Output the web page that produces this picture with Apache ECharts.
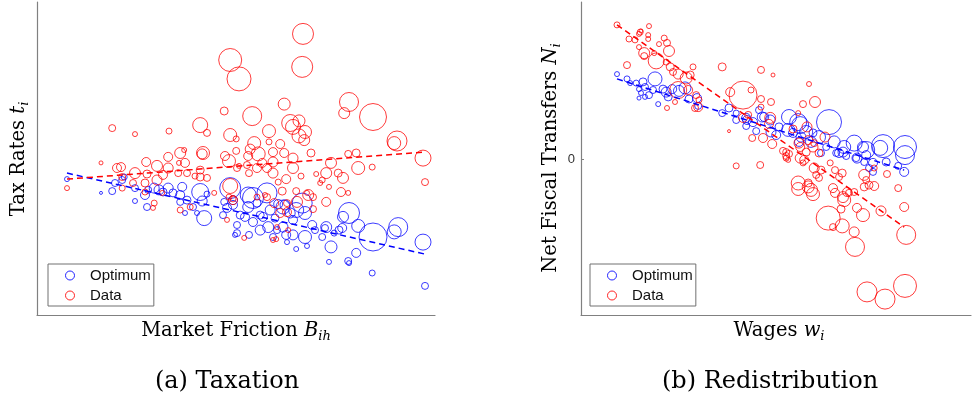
<!DOCTYPE html>
<html>
<head>
<meta charset="utf-8">
<script src="https://cdn.jsdelivr.net/npm/echarts@6/dist/echarts.min.js"></script>
<style>
  html, body { margin: 0; padding: 0; background: #ffffff; }
  #chart { width: 972px; height: 406px; }
</style>
</head>
<body>
<div id="chart"></div>
<script>
// Panel (a): market friction B (index) vs tax rate t (%), bubble weight = population
const taxData = [
  [66.5,93.7,21],[48.3,85.0,23],[50.5,78.7,24],[66.3,82.7,21],[78.0,71.0,19],[76.8,67.3,11],[84.0,66.0,27],[61.8,70.3,12],[46.8,68.0,8],[53.8,66.3,19],
  [40.8,63.3,15],[42.5,60.7,7],[18.8,62.3,7],[24.5,60.3,5],[33.0,61.3,6],[48.3,60.0,13],[49.8,58.7,6],[58.0,61.3,13],[63.3,64.0,17],[65.5,64.7,12],
  [64.0,62.7,15],[67.0,61.0,13],[65.5,59.7,14],[66.8,58.3,11],[60.8,57.0,9],[58.0,57.7,6],[54.3,57.3,13],[53.3,55.3,10],[49.8,54.7,7],[59.0,54.3,9],
  [61.8,54.0,9],[55.3,53.7,14],[52.8,53.0,9],[47.0,53.0,9],[48.0,51.3,13],[68.5,54.0,8],[64.0,52.3,10],[89.3,57.3,13],[90.0,58.0,20],[77.8,53.7,7],
  [79.8,54.0,8],[96.5,52.3,16],[97.0,44.3,7],[83.8,49.3,6],[80.3,49.0,13],[73.5,50.7,11],[72.3,47.3,11],[76.5,45.7,11],[75.3,47.3,8],[69.8,47.0,5],
  [71.3,45.0,6],[70.8,44.0,5],[73.0,42.7,5],[66.0,46.3,6],[62.3,45.3,9],[60.3,44.3,6],[64.0,49.0,11],[59.0,47.3,10],[57.5,49.0,9],[55.0,49.0,9],
  [53.0,47.3,7],[56.3,50.7,9],[59.0,51.0,10],[50.0,49.0,7],[50.5,49.7,5],[52.5,50.0,7],[41.3,53.7,10],[41.5,54.0,13],[36.8,55.0,5],[35.8,54.0,11],
  [32.8,52.7,9],[37.0,50.7,9],[35.5,50.7,5],[32.8,49.0,10],[30.0,49.7,11],[27.3,51.0,9],[16.0,50.7,4],[20.0,49.0,9],[21.0,49.3,9],[24.5,47.3,11],
  [30.0,45.0,10],[27.5,47.0,8],[31.5,46.7,9],[35.3,47.3,7],[37.5,47.3,7],[40.8,48.3,8],[40.8,46.0,8],[42.5,45.7,7],[39.5,46.3,6],[27.0,44.0,8],
  [24.0,44.0,7],[21.3,46.0,7],[7.5,42.3,5],[29.3,37.3,6],[29.0,35.7,5],[35.8,35.0,6],[38.3,36.0,6],[31.3,40.7,5],[27.0,41.0,6],[44.3,40.7,5],
  [48.3,43.0,15],[49.0,38.3,9],[48.0,39.3,6],[49.0,38.7,6],[47.5,31.7,5],[51.8,25.7,5],[59.0,25.0,5],[59.8,25.3,5],[55.0,39.3,6],[57.5,39.3,7],
  [61.3,41.3,8],[60.8,34.0,9],[62.5,34.3,9],[62.5,37.3,7],[67.5,40.7,5],[69.0,39.3,7],[69.0,35.3,7],[72.3,37.7,9],[77.8,40.7,5],[60.0,29.3,5],
  [64.8,41.3,7],[67.8,40.0,11],[65.0,37.7,11],[59.3,37.3,9],[57.0,40.0,5],[76.0,41.0,9],[62.8,28.3,5],[21.3,42.3,6]
];
const taxOptimum = [
  [7.5,45.3,5],[16.0,40.7,3],[18.8,41.3,7],[19.5,44.0,7],[21.3,45.0,7],[21.8,46.0,6],[24.5,38.0,5],[24.5,42.3,7],[27.5,36.0,7],[27.0,40.0,9],
  [29.3,42.3,10],[27.8,41.7,7],[30.5,41.7,10],[32.8,42.3,10],[31.5,41.0,8],[34.0,40.7,8],[35.8,40.0,9],[36.3,42.7,9],[37.0,34.0,5],[35.8,37.7,7],
  [37.5,38.3,8],[39.0,36.0,7],[40.8,41.0,17],[41.8,32.3,15],[41.3,38.0,10],[42.5,40.3,6],[40.0,34.0,5],[48.3,42.3,21],[49.0,38.3,9],[49.0,36.7,9],
  [47.5,35.7,9],[46.5,33.3,7],[46.8,37.7,7],[50.0,30.0,7],[50.0,27.3,7],[49.5,26.7,5],[53.0,26.7,7],[54.0,39.0,21],[52.8,36.0,11],[55.0,37.3,8],
  [52.0,32.7,9],[54.0,31.0,9],[55.8,28.3,10],[56.5,32.7,9],[57.8,29.3,11],[60.0,28.3,7],[58.3,35.0,10],[60.3,37.0,9],[61.5,36.0,14],[63.3,34.0,10],
  [64.8,35.0,15],[66.3,37.3,20],[67.0,34.0,13],[64.0,31.7,9],[61.5,29.3,10],[59.0,26.0,7],[62.3,26.7,9],[64.0,26.7,10],[62.5,24.3,5],[67.0,26.0,13],
  [64.8,22.0,5],[67.5,23.0,5],[68.8,30.0,9],[69.5,28.3,7],[71.3,26.0,7],[72.3,29.3,11],[74.3,27.3,6],[75.5,28.3,8],[73.5,22.7,12],[78.0,34.0,21],
  [76.5,32.7,11],[80.3,29.7,13],[79.8,20.7,9],[73.0,17.7,5],[77.8,18.0,7],[78.0,17.3,5],[84.0,26.0,28],[89.3,27.7,14],[90.3,29.3,19],[96.5,24.3,16],
  [83.8,14.0,6],[97.0,9.7,7],[57.5,40.7,20],[52.8,40.0,16],[62.0,36.7,10],[76.3,29.0,9],[72.0,29.0,7],[55.8,33.3,8],[59.5,32.3,8],[50.8,33.3,8]
];
// Fitted trends for panel (a): [B, t] at both ends
const taxDataFit = [[7.5,45.3],[97.0,54.3]];
const taxOptimumFit = [[7.5,47.3],[97.0,20.3]];

// Panel (b): wage w (index) vs net fiscal transfer N, bubble weight = population
const transferData = [
  [9.0,44.7,6],[17.0,44.3,5],[14.8,42.3,6],[14.5,41.7,5],[15.0,42.7,4],[12.0,40.0,6],[13.5,39.7,6],[16.8,40.0,5],[16.8,41.3,5],[20.8,40.3,6],
  [19.5,38.3,5],[21.5,38.7,7],[22.0,36.0,11],[18.3,35.3,5],[15.8,34.3,7],[15.8,35.3,11],[14.5,37.3,5],[18.8,32.7,16],[21.3,32.3,6],[22.3,30.7,8],
  [23.0,29.0,7],[24.3,28.3,10],[26.3,27.0,12],[27.3,28.0,8],[28.0,30.7,6],[11.5,31.3,7],[35.3,30.7,8],[45.0,29.7,7],[48.0,28.0,4],[57.0,25.0,5],
  [40.5,21.3,28],[37.3,22.3,9],[42.5,23.0,6],[45.0,20.0,7],[47.5,19.0,7],[45.0,17.3,6],[58.5,19.0,11],[55.5,18.3,7],[54.3,15.3,5],[28.8,21.3,7],
  [29.5,19.7,6],[29.3,17.3,9],[26.8,23.0,9],[24.3,23.0,17],[21.5,17.0,5],[23.5,19.0,5],[28.5,17.0,7],[37.0,9.3,3],[40.5,13.7,9],[41.8,14.7,7],
  [47.3,13.7,11],[47.0,11.7,9],[42.8,7.0,7],[45.5,7.0,9],[47.8,5.0,9],[38.8,-2.3,6],[44.8,-2.0,7],[50.5,2.7,7],[52.0,1.7,7],[51.3,0.3,6],
  [51.8,-0.3,5],[54.8,0.3,10],[56.3,2.3,8],[55.5,-1.3,6],[59.5,2.0,8],[56.8,6.3,9],[54.5,5.3,10],[58.3,5.3,7],[61.0,7.3,10],[60.0,-3.7,8],
  [58.3,-3.0,10],[58.8,-5.3,7],[54.3,-8.0,14],[54.3,-10.0,13],[56.8,-9.3,12],[57.5,-10.3,13],[58.0,-11.7,13],[56.8,-8.0,8],[59.5,-6.3,7],[62.3,-1.3,6],
  [63.5,-3.7,7],[64.5,-6.0,7],[65.3,-4.7,8],[63.0,-9.7,9],[63.5,-11.3,9],[65.5,-12.7,11],[66.5,-11.0,9],[67.0,-11.3,7],[68.3,-11.0,7],[65.0,-16.7,8],
  [65.8,-13.7,13],[61.8,-19.7,24],[63.0,-22.7,7],[65.3,-22.3,14],[69.0,-16.3,9],[70.5,-18.7,13],[68.3,-24.3,10],[68.5,-29.3,19],[70.8,-5.3,11],[71.3,-7.0,7],
  [70.8,-9.3,8],[72.0,-8.7,8],[73.3,-9.0,9],[75.0,-17.3,10],[79.3,-9.7,7],[76.5,-5.0,7],[73.3,-3.0,6],[80.8,-16.0,9],[81.3,-25.3,19],[71.5,-44.3,20],
  [76.0,-46.7,20],[81.0,-42.3,23],[51.3,2.3,7],[53.0,10.0,8],[56.5,10.7,10],[58.0,4.0,10],[54.8,4.0,9],[51.3,1.0,7],[55.8,-0.3,9]
];
const transferOptimum = [
  [9.0,28.3,5],[11.5,26.7,6],[12.3,25.3,5],[13.8,25.3,6],[15.5,25.7,8],[16.0,24.0,7],[18.5,26.7,14],[14.5,23.3,5],[15.0,22.0,5],[14.5,20.3,4],
  [16.0,20.7,5],[17.0,21.3,7],[18.0,23.0,7],[19.3,18.3,5],[20.5,23.3,8],[21.3,22.3,10],[21.8,20.7,8],[22.8,23.3,9],[24.5,22.7,11],[26.0,23.7,12],
  [27.0,20.0,8],[29.0,20.3,9],[29.3,17.7,7],[35.3,15.3,7],[37.0,17.0,8],[38.8,15.3,6],[38.8,13.0,7],[41.3,13.7,9],[41.3,11.0,7],[43.0,12.3,9],
  [43.8,9.3,7],[44.5,16.3,7],[45.8,14.0,9],[47.5,9.0,10],[48.8,8.0,9],[49.5,10.7,8],[52.0,14.0,15],[51.8,9.7,13],[54.3,12.3,17],[55.0,7.3,10],
  [56.3,9.0,13],[57.5,5.7,11],[58.0,8.7,8],[59.5,7.3,13],[62.0,12.3,25],[63.3,5.7,12],[65.8,4.0,13],[68.3,5.3,16],[70.5,4.0,11],[71.3,3.0,17],
  [64.5,2.0,9],[66.3,1.0,7],[68.8,0.3,7],[71.3,1.3,9],[70.8,-1.0,7],[73.0,-1.3,9],[75.5,4.3,23],[76.3,-1.0,8],[79.3,-2.3,7],[81.0,4.0,23],
  [81.0,1.3,19],[80.8,-4.3,9],[63.8,2.0,7],[61.3,4.0,7],[60.0,2.0,7],[54.5,5.7,9],[53.0,8.7,9],[72.0,-3.0,7],[73.0,-4.3,7],[45.3,14.0,10],
  [47.3,13.0,10],[54.8,11.3,17],[74.8,3.7,15],[69.0,0.3,10],[65.5,2.3,10],[41.5,13.0,9]
];
// Fitted trends for panel (b): [w, N] at both ends
const transferDataFit = [[9.0,44.7],[80.8,-22.7]];
const transferOptimumFit = [[9.0,26.7],[80.8,-3.7]];

const seriesNames = ['Optimum', 'Data'];
const yTicksB = [0];

const RED = '#ff0000';
const BLUE = '#0000ff';
const AXIS_GREY = '#808080';
const SERIF = '"DejaVu Serif", serif';

function bubbles(name, data, color, idx) {
  return {
    type: 'scatter', name, data, xAxisIndex: idx, yAxisIndex: idx,
    symbol: 'circle',
    symbolSize: d => d[2],
    itemStyle: { color: 'rgba(0,0,0,0)', borderColor: color, borderWidth: 0.9, opacity: 0.85 },
    emphasis: { disabled: true }, silent: true, z: 2
  };
}
function fitLine(name, data, color, idx) {
  return {
    type: 'line', name, data, xAxisIndex: idx, yAxisIndex: idx,
    symbol: 'none', silent: true, z: 3,
    lineStyle: { color, width: 1.5, type: [6, 4] }
  };
}
function hiddenAxis(extra) {
  return Object.assign({
    type: 'value',
    axisLine: { show: true, onZero: false, lineStyle: { color: AXIS_GREY, width: 1.2 } },
    axisTick: { show: false }, axisLabel: { show: false }, splitLine: { show: false }
  }, extra);
}
function legendBox(left) {
  return {
    left, top: 264, orient: 'vertical', selectedMode: false,
    data: [
      { name: seriesNames[0], icon: 'circle', itemStyle: { color: 'rgba(0,0,0,0)', borderColor: BLUE, borderWidth: 1 } },
      { name: seriesNames[1], icon: 'circle', itemStyle: { color: 'rgba(0,0,0,0)', borderColor: RED, borderWidth: 1 } }
    ],
    itemWidth: 30, itemHeight: 9, itemGap: 5,
    padding: [4, 3, 3, 17],
    borderColor: '#707070', borderWidth: 1, backgroundColor: '#ffffff',
    textStyle: { fontFamily: '"Liberation Sans", Arial, sans-serif', fontSize: 15, color: '#111' }
  };
}
const rich = {
  it: { fontFamily: SERIF, fontStyle: 'italic', fontSize: 19.5, lineHeight: 24, color: '#000' },
  sub: { fontFamily: SERIF, fontStyle: 'italic', fontSize: 13, lineHeight: 13, verticalAlign: 'bottom', color: '#000' }
};
function label(text, x, y, rotated, size) {
  return {
    type: 'text', x, y, rotation: rotated ? Math.PI / 2 : 0, silent: true,
    style: {
      text, rich, fontFamily: SERIF, fontSize: size || 19.5, lineHeight: 24, fill: '#000',
      align: 'center', verticalAlign: 'middle', textAlign: 'center', textVerticalAlign: 'middle'
    }
  };
}

const chart = echarts.init(document.getElementById('chart'), null, { renderer: 'canvas' });
chart.setOption({
  animation: false,
  backgroundColor: '#ffffff',
  grid: [
    { left: 37, top: 2, width: 398, height: 313 },
    { left: 581, top: 2, width: 390, height: 313 }
  ],
  xAxis: [
    hiddenAxis({ gridIndex: 0, min: 0, max: 99.5 }),
    hiddenAxis({ gridIndex: 1, min: 0, max: 97.5 })
  ],
  yAxis: [
    hiddenAxis({ gridIndex: 0, min: 0, max: 313 / 3 }),
    hiddenAxis({
      gridIndex: 1, min: -52, max: 157 / 3,
      axisTick: { show: true, inside: true, length: 3, customValues: yTicksB, lineStyle: { color: AXIS_GREY } },
      axisLabel: { show: true, customValues: yTicksB, margin: 6, fontFamily: '"Liberation Sans", Arial, sans-serif', fontSize: 13, color: '#333' }
    })
  ],
  legend: [legendBox(48), legendBox(590)],
  series: [
    bubbles(seriesNames[0], taxOptimum, BLUE, 0),
    bubbles(seriesNames[1], taxData, RED, 0),
    fitLine('Optimum fit', taxOptimumFit, BLUE, 0),
    fitLine('Data fit', taxDataFit, RED, 0),
    bubbles(seriesNames[0], transferOptimum, BLUE, 1),
    bubbles(seriesNames[1], transferData, RED, 1),
    fitLine('Optimum fit', transferOptimumFit, BLUE, 1),
    fitLine('Data fit', transferDataFit, RED, 1)
  ],
  graphic: [
    label('Tax Rates {it|t}{sub|i}', 19, 159, true),
    label('Market Friction {it|B}{sub|ih}', 236, 331, false),
    label('Net Fiscal Transfers {it|N}{sub|i}', 551, 158, true),
    label('Wages {it|w}{sub|i}', 779, 331, false),
    label('(a) Taxation', 227, 382, false, 24),
    label('(b) Redistribution', 770, 382, false, 24)
  ]
});
</script>
</body>
</html>
